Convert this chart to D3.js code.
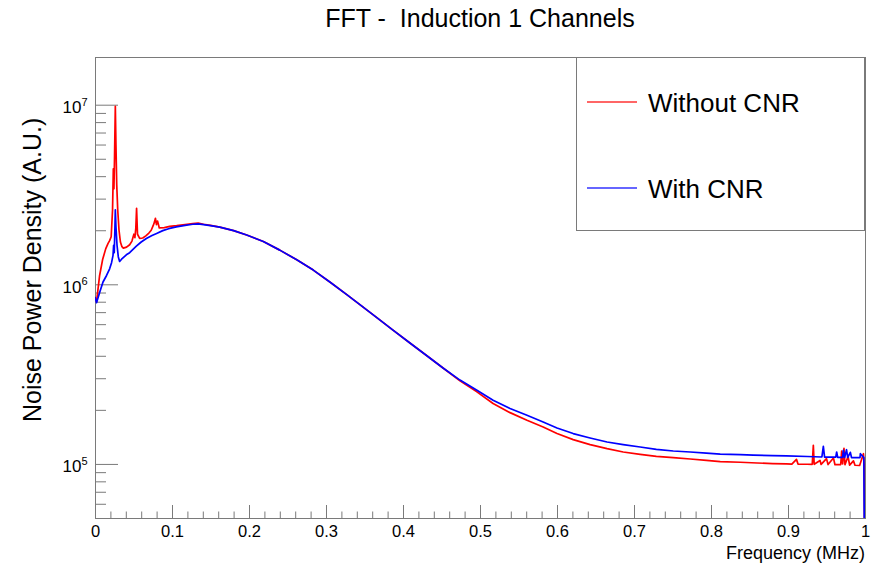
<!DOCTYPE html>
<html>
<head>
<meta charset="utf-8">
<script src="https://cdn.jsdelivr.net/npm/d3@7"></script>
<style>
  body { margin: 0; background: #fff; }
  svg text { font-family: "Liberation Sans", Arial, Helvetica, sans-serif; fill: #000; }
</style>
</head>
<body>
<svg id="chart" width="884" height="563"></svg>
<script>
// Noise power spectrum, induction plane 1, before and after coherent noise removal.
// Frequencies in MHz, power in units of 10^6 (A.U.).

const titleText = "FFT -  Induction 1 Channels";
const xTitle = "Frequency (MHz)";
const yTitle = "Noise Power Density (A.U.)";
const seriesNames = ["Without CNR", "With CNR"];
const seriesColors = ["#ff0000", "#0000ff"];

const xTickValues = [0, 0.1, 0.2, 0.3, 0.4, 0.5, 0.6, 0.7, 0.8, 0.9, 1];
const xTickLabels = ["0", "0.1", "0.2", "0.3", "0.4", "0.5", "0.6", "0.7", "0.8", "0.9", "1"];
const yTickValues = [1e5, 1e6, 1e7];
const yTickExponents = ["5", "6", "7"];

// Without CNR
const redFreq = [
  0, 0.002, 0.006, 0.010, 0.014, 0.017, 0.019, 0.021, 0.0228, 0.0238,
  0.0246, 0.0254, 0.0264, 0.0272, 0.0282, 0.0295, 0.0312, 0.0330, 0.0350, 0.0368,
  0.041, 0.045, 0.048, 0.0505, 0.0518, 0.0530, 0.0540, 0.0552, 0.058, 0.062,
  0.066, 0.070, 0.073, 0.0755, 0.0772, 0.0785, 0.0798, 0.0812, 0.0835, 0.090,
  0.097, 0.106, 0.117, 0.127, 0.134, 0.141, 0.150, 0.162, 0.180, 0.197,
  0.2186, 0.240, 0.262, 0.2835, 0.305, 0.327, 0.344, 0.366, 0.387, 0.409,
  0.431, 0.452, 0.474, 0.496, 0.517, 0.539, 0.561, 0.582, 0.600, 0.621,
  0.643, 0.665, 0.686, 0.708, 0.729, 0.751, 0.773, 0.794, 0.812, 0.838,
  0.860, 0.880, 0.898, 0.905, 0.911, 0.913, 0.925, 0.9315, 0.9329, 0.9340,
  0.9416, 0.9430, 0.950, 0.952, 0.959, 0.961, 0.9685, 0.9697, 0.9710, 0.9727,
  0.9740, 0.978, 0.980, 0.985, 0.987, 0.993, 0.998, 0.9990, 1.000
];
const redPower = [
  0.85, 0.80, 1.12, 1.38, 1.58, 1.69, 1.75, 1.84, 2.6, 4.4,
  3.4, 5.2, 9.8, 6.0, 3.6, 2.6, 2.0, 1.72, 1.62, 1.59,
  1.61, 1.66, 1.74, 1.90, 1.82, 2.05, 2.65, 1.90, 1.80, 1.81,
  1.86, 1.93, 2.00, 2.12, 2.22, 2.33, 2.15, 2.25, 2.06, 2.07,
  2.10, 2.12, 2.15, 2.18, 2.19, 2.16, 2.13, 2.08, 1.99, 1.88,
  1.73, 1.55, 1.37, 1.20, 1.03, 0.876, 0.77, 0.652, 0.556, 0.471,
  0.400, 0.342, 0.290, 0.252, 0.217, 0.193, 0.175, 0.1607, 0.1476, 0.1366,
  0.1281, 0.1217, 0.1165, 0.1131, 0.1102, 0.1084, 0.1065, 0.1047, 0.1030, 0.1022,
  0.1012, 0.1005, 0.1000, 0.0998, 0.106, 0.0998, 0.0996, 0.0995, 0.127, 0.0995,
  0.1045, 0.0994, 0.107, 0.0992, 0.108, 0.0990, 0.0992, 0.118, 0.100, 0.122,
  0.0990, 0.110, 0.0985, 0.104, 0.0983, 0.0980, 0.114, 0.0978, 0.01
];

// With CNR
const blueFreq = [
  0, 0.002, 0.006, 0.0104, 0.015, 0.019, 0.0215, 0.0234, 0.0242, 0.0250,
  0.0258, 0.0264, 0.0272, 0.0286, 0.0303, 0.0320, 0.0345, 0.0407, 0.045, 0.0537,
  0.060, 0.0667, 0.074, 0.080, 0.088, 0.0956, 0.1056, 0.117, 0.127, 0.134,
  0.141, 0.150, 0.162, 0.180, 0.197, 0.2186, 0.240, 0.262, 0.2835, 0.305,
  0.327, 0.344, 0.366, 0.387, 0.409, 0.431, 0.452, 0.474, 0.496, 0.517,
  0.539, 0.561, 0.582, 0.600, 0.621, 0.643, 0.665, 0.686, 0.708, 0.729,
  0.751, 0.773, 0.794, 0.812, 0.838, 0.855, 0.880, 0.898, 0.925, 0.944,
  0.9459, 0.9475, 0.962, 0.9632, 0.9645, 0.9710, 0.9719, 0.9735, 0.976, 0.9775,
  0.981, 0.9825, 0.9935, 0.994, 0.9985, 1.000
];
const bluePower = [
  0.85, 0.79, 0.90, 1.03, 1.12, 1.22, 1.32, 1.45, 1.65, 1.50,
  2.0, 2.6, 2.1, 1.65, 1.42, 1.34, 1.38, 1.46, 1.50, 1.63,
  1.72, 1.80, 1.87, 1.92, 1.99, 2.04, 2.09, 2.13, 2.16, 2.17,
  2.15, 2.12, 2.08, 1.99, 1.88, 1.73, 1.55, 1.37, 1.20, 1.03,
  0.876, 0.77, 0.652, 0.556, 0.471, 0.400, 0.342, 0.293, 0.257, 0.226,
  0.2035, 0.1867, 0.1713, 0.1585, 0.1476, 0.1395, 0.1325, 0.1281, 0.1242, 0.1206,
  0.1180, 0.1165, 0.1150, 0.1135, 0.1127, 0.1120, 0.1113, 0.1108, 0.1100, 0.1093,
  0.1251, 0.1092, 0.1090, 0.1165, 0.1089, 0.1088, 0.119, 0.1087, 0.120, 0.1086,
  0.116, 0.1085, 0.1084, 0.114, 0.1084, 0.01
];

const POWER_UNIT = 1e6;

const width = 884, height = 563;
const margin = { top: 57, right: 19, bottom: 45, left: 95 };
const plotW = width - margin.left - margin.right;
const plotH = height - margin.top - margin.bottom;
const axisColor = "#7a7a7a";

const svg = d3.select("#chart");

const x = d3.scaleLinear().domain([0, 1]).range([margin.left, margin.left + plotW]);
const y = d3.scaleLog().domain([5e4, 1.843e7]).range([margin.top + plotH, margin.top]);

// clip region for the curves
svg.append("defs").append("clipPath").attr("id", "plotClip")
  .append("rect")
  .attr("x", margin.left).attr("y", margin.top)
  .attr("width", plotW).attr("height", plotH);

// frame
svg.append("rect")
  .attr("x", margin.left + 0.5).attr("y", margin.top + 0.5)
  .attr("width", plotW).attr("height", plotH)
  .attr("fill", "none").attr("stroke", axisColor).attr("stroke-width", 1);

// minor ticks on the y axis: 2..9 x 10^n inside the domain
const yMinor = [];
for (let e = 4; e <= 7; e++) {
  for (let k = 2; k <= 9; k++) {
    const v = k * Math.pow(10, e);
    if (v >= y.domain()[0] && v <= y.domain()[1]) yMinor.push(v);
  }
}
// minor ticks on the x axis every 0.02
const xMinor = d3.range(0, 51).map(i => i / 50).filter(v => Math.abs(v * 10 - Math.round(v * 10)) > 1e-6);

function styleAxis(g) {
  g.selectAll("path.domain").attr("stroke", axisColor);
  g.selectAll(".tick line").attr("stroke", axisColor);
  g.attr("font-family", null).attr("font-size", null);
}

const gYMinor = svg.append("g").attr("transform", `translate(${margin.left},0)`)
  .call(d3.axisLeft(y).tickValues(yMinor).tickSizeInner(-11).tickSizeOuter(0).tickFormat(""));
styleAxis(gYMinor);
gYMinor.select("path.domain").remove();

const gY = svg.append("g").attr("transform", `translate(${margin.left},0)`)
  .call(d3.axisLeft(y).tickValues(yTickValues).tickSizeInner(-23).tickSizeOuter(0).tickPadding(7.5).tickFormat(""));
styleAxis(gY);
gY.selectAll(".tick text")
  .attr("dy", "0.47em")
  .style("font-size", "17px")
  .each(function (d, i) {
    const t = d3.select(this);
    t.append("tspan").text("10");
    t.append("tspan").attr("dy", -7.5).style("font-size", "11px").text(yTickExponents[i]);
  });

const gXMinor = svg.append("g").attr("transform", `translate(0,${margin.top + plotH})`)
  .call(d3.axisBottom(x).tickValues(xMinor).tickSizeInner(-6.5).tickSizeOuter(0).tickFormat(""));
styleAxis(gXMinor);
gXMinor.select("path.domain").remove();

const gX = svg.append("g").attr("transform", `translate(0,${margin.top + plotH})`)
  .call(d3.axisBottom(x).tickValues(xTickValues).tickSizeInner(-13).tickSizeOuter(0).tickPadding(7)
    .tickFormat((d, i) => xTickLabels[i]));
styleAxis(gX);
gX.selectAll(".tick text").style("font-size", "16.5px");

// curves
const line = d3.line()
  .x(d => x(d.f))
  .y(d => y(d.p * POWER_UNIT));

const redData = redFreq.map((f, i) => ({ f, p: redPower[i] }));
const blueData = blueFreq.map((f, i) => ({ f, p: bluePower[i] }));

const curves = svg.append("g").attr("clip-path", "url(#plotClip)");
curves.append("path").datum(redData)
  .attr("d", line).attr("fill", "none")
  .attr("stroke", seriesColors[0]).attr("stroke-width", 1.7).attr("stroke-linejoin", "round");
curves.append("path").datum(blueData)
  .attr("d", line).attr("fill", "none")
  .attr("stroke", seriesColors[1]).attr("stroke-width", 1.7).attr("stroke-linejoin", "round");

// legend
const legend = svg.append("g");
legend.append("rect")
  .attr("x", 576.5).attr("y", margin.top + 0.5)
  .attr("width", 288).attr("height", 173)
  .attr("fill", "#fff").attr("stroke", axisColor).attr("stroke-width", 1);
const legendRows = [102, 188];
seriesNames.forEach((name, i) => {
  legend.append("line")
    .attr("x1", 587).attr("x2", 637)
    .attr("y1", legendRows[i]).attr("y2", legendRows[i])
    .style("stroke", seriesColors[i]).style("stroke-width", "1.3px").style("stroke-opacity", 0.8);
  legend.append("text")
    .attr("x", 648).attr("y", legendRows[i] + 10.3)
    .style("font-size", "26px")
    .text(name);
});

// titles
svg.append("text")
  .attr("x", 480).attr("y", 27)
  .attr("text-anchor", "middle")
  .style("font-size", "25px")
  .style("white-space", "pre")
  .text(titleText);

svg.append("text")
  .attr("x", margin.left + plotW).attr("y", 558.5)
  .attr("text-anchor", "end")
  .style("font-size", "18px")
  .text(xTitle);

svg.append("text")
  .attr("transform", "translate(41,422) rotate(-90)")
  .attr("text-anchor", "start")
  .style("font-size", "25px")
  .text(yTitle);
</script>
</body>
</html>
